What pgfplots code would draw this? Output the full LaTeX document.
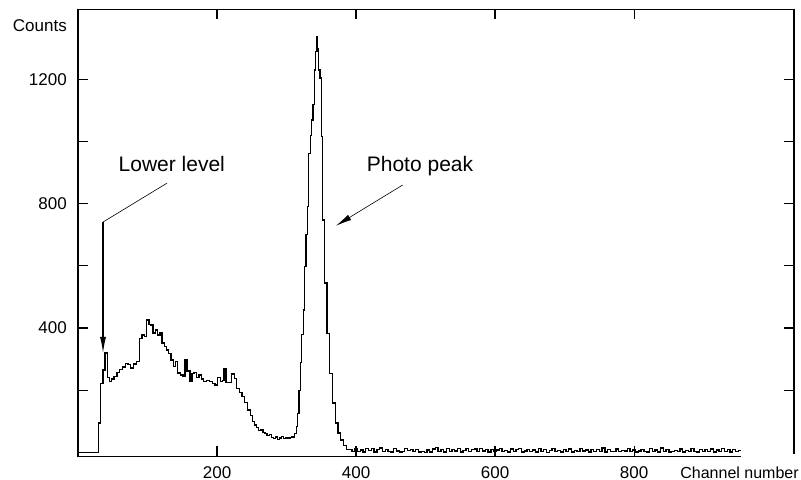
\documentclass[border=0pt]{standalone}
\usepackage{fontspec}
\setmainfont{Liberation Sans}
\usepackage{pgfplots}
\pgfplotsset{compat=1.18}
\usetikzlibrary{arrows.meta}
\begin{document}
\begin{tikzpicture}
\path[use as bounding box] (-78bp,-23.5bp) rectangle (723bp,456.5bp);
\begin{axis}[
 at={(0,0)}, anchor=south west,
 scale only axis, width=716bp, height=447bp,
 xmin=0, xmax=1030, ymin=-12.9, ymax=1424.4,
 axis line style={draw=none},
 xtick={200,400,600,800},
 ytick={200,400,600,800,1000,1200},
 yticklabels={,400,,800,,1200},
 tick align=inside,
 major tick length=10bp,
 tick style={black, line width=1.2bp},
 xticklabel style={anchor=base, yshift=-21.5bp, inner sep=0pt},
 yticklabel style={anchor=east, xshift=-11bp, inner sep=0pt},
 /pgf/number format/assume math mode=true,
 font=\fontsize{17bp}{20bp}\selectfont,
 clip=false,
]
\addplot[const plot mark left, line width=1.3bp, black, mark=none] coordinates {
(0,0) (29,95) (32,222) (36,265) (39,320) (42,240) (45,228) (48,236) (52,245) (56,258)
(60,266) (64,275) (68,286) (72,282) (76,272) (80,285) (84,292) (88,367) (92,378) (96,372)
(99,426) (102,412) (105,410) (108,384) (111,394) (114,378) (118,384) (121,352) (124,340) (127,330)
(130,318) (134,297) (137,276) (140,292) (143,256) (147,249) (151,244) (154,300) (157,262) (161,228)
(164,255) (167,258) (170,240) (174,249) (178,236) (181,228) (185,232) (189,228) (193,222) (197,217)
(201,240) (205,228) (208,232) (210,270) (213,225) (217,224) (221,252) (225,238) (228,206) (232,192)
(236,180) (240,160) (244,137) (248,118) (251,99) (254,88) (257,80) (260,70) (263,72) (266,64)
(269,60) (272,54) (275,58) (278,48) (281,46) (284,50) (287,42) (290,47) (293,51) (296,45)
(299,48) (302,44) (305,49) (308,50) (311,62) (314,83) (316,126) (318,200) (320,290) (322,380)
(324,458) (326,597) (328,700) (330,790) (332,962) (334,1020) (336,1069) (338,1120) (340,1230) (342,1290)
(344,1337) (345,1300) (346,1230) (348,1204) (350,1015) (352,748) (355,545) (358,383) (362,255) (366,159)
(370,95) (374,63) (378,40) (382,22) (386,10)
(390,10) (394,4) (398,12) (402,3) (406,8) (410,2) (414,12) (418,6) (422,12) (426,2)
(430,9) (434,14) (438,4) (442,10) (446,3) (450,2) (454,13) (458,5) (462,2) (466,3)
(470,12) (474,6) (478,9) (482,3) (486,10) (490,2) (494,4) (498,1) (502,8) (506,2)
(510,11) (514,16) (518,4) (522,10) (526,2) (530,12) (534,3) (538,9) (542,5) (546,12)
(550,2) (554,6) (558,13) (562,4) (566,10) (570,11) (574,3) (578,12) (582,5) (586,9)
(590,2) (594,10) (598,3) (602,8) (606,13) (610,4) (614,6) (618,2) (622,11) (626,3)
(630,9) (634,12) (638,2) (642,5) (646,10) (650,3) (654,8) (658,2) (662,12) (666,4)
(670,9) (674,1) (678,7) (682,12) (686,3) (690,6) (694,2) (698,10) (702,4) (706,11)
(710,2) (714,7) (718,3) (722,12) (726,5) (730,8) (734,2) (738,10) (742,3) (746,9)
(750,4) (754,14) (758,2) (762,10) (766,4) (770,4) (774,11) (778,3) (782,6) (786,5)
(790,12) (794,3) (798,8) (802,2) (806,5) (810,10) (814,3) (818,2) (822,12) (826,4)
(830,8) (834,2) (838,14) (842,3) (846,9) (850,2) (854,4) (858,7) (862,3) (866,11)
(870,2) (874,6) (878,3) (882,12) (886,4) (890,2) (894,9) (898,3) (902,10) (906,4)
(910,11) (914,2) (918,8) (922,3) (926,12) (930,4) (934,9) (938,2) (942,10) (946,3)
(950,6) (954,6)
};
\draw[line width=1.5bp] (axis cs:1030,-5) -- (axis cs:1030,1424.4) -- (axis cs:0,1424.4) -- (axis cs:0,-12.9) -- (axis cs:954,-12.9);
\node[anchor=east, inner sep=0pt, xshift=-11bp] at (axis cs:0,1371) {Counts};
\node[anchor=base east, inner sep=0pt, yshift=-21.5bp, font=\fontsize{16bp}{19bp}\selectfont] at (axis cs:1037,-12.9) {Channel number};
\draw[line width=0.6bp] (axis cs:128,866) -- (axis cs:36,741);
\draw[line width=1.1bp, -{Latex[length=16bp,width=6bp]}] (axis cs:36,741) -- (axis cs:36,320);
\node[font=\fontsize{21bp}{24bp}\selectfont] at (axis cs:135,928) {Lower level};
\draw[line width=0.6bp, -{Latex[length=16bp,width=6bp]}] (axis cs:467,860) -- (axis cs:371,729);
\node[font=\fontsize{21bp}{24bp}\selectfont] at (axis cs:492,920) {Photo peak};
\end{axis}
\end{tikzpicture}
\end{document}
